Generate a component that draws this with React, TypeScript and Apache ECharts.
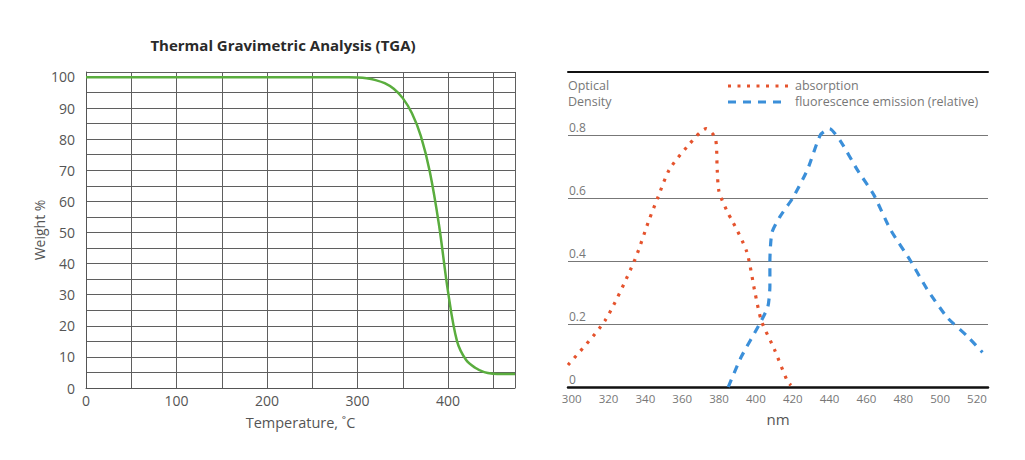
import React, { useEffect, useRef } from "react";
import * as echarts from "echarts";

const tgaTemp = [0, 50, 100, 150, 200, 250, 260, 270, 280, 290, 300, 310, 320, 330, 340, 350, 360, 370, 380, 390, 400, 410, 420, 430, 440, 450, 460, 474];
const tgaWeight = [99.9, 99.9, 99.9, 99.9, 99.9, 99.9, 99.9, 99.9, 99.9, 99.9, 99.85, 99.6, 99.0, 98.0, 96.2, 93.2, 88.4, 81.0, 69.4, 52.5, 31, 15, 9, 6.5, 5.1, 4.6, 4.5, 4.5];

const absNm = [298, 318, 334, 342, 347, 353, 363, 373, 378, 379, 380, 385, 387, 395, 399.5, 403, 410, 417, 419];
const absOd = [0.07, 0.21, 0.4, 0.53, 0.605, 0.69, 0.765, 0.82, 0.79, 0.69, 0.62, 0.55, 0.53, 0.43, 0.3, 0.21, 0.12, 0.02, 0.005];

const fluNm = [385, 392, 402, 406.5, 407.6, 407.6, 408.7, 413, 420, 428, 435, 440, 446, 455, 464, 473, 484, 493, 504, 515, 523];
const fluOd = [0, 0.095, 0.2, 0.255, 0.32, 0.4, 0.49, 0.54, 0.6, 0.69, 0.8, 0.82, 0.78, 0.69, 0.61, 0.5, 0.4, 0.31, 0.22, 0.16, 0.11];

const nmTicks = [300, 320, 340, 360, 380, 400, 420, 440, 460, 480, 500, 520];
const odTicks = [0, 0.2, 0.4, 0.6, 0.8];

const FONT = "'Open Sans', 'Noto Sans', sans-serif";
const RED = "#e5532d";
const BLUE = "#3b8fd9";
const ABS_DASH = [3, 6.5];
const FLU_DASH = [8, 7];

export default function App() {
  const ref = useRef<HTMLDivElement>(null);
  useEffect(() => {
    document.body.style.margin = "0";
    const chart = echarts.init(ref.current!, null, { renderer: "svg" });
    const option: any = {
      animation: false,
      backgroundColor: "#ffffff",
      textStyle: { fontFamily: FONT },
      title: {
        text: "Thermal Gravimetric Analysis (TGA)",
        left: 278,
        textAlign: "center",
        top: 32,
        textStyle: { fontSize: 15, fontWeight: "bold", color: "#2a2a2a", fontFamily: FONT },
      },
      graphic: [
        { type: "text", left: 568, top: 79, style: { text: "Optical", fontSize: 12.5, fill: "#777", fontFamily: FONT } },
        { type: "text", left: 568, top: 95, style: { text: "Density", fontSize: 12.5, fill: "#777", fontFamily: FONT } },
        {
          type: "line",
          shape: { x1: 728, y1: 86, x2: 788, y2: 86 },
          style: { stroke: RED, lineWidth: 3.2, lineDash: ABS_DASH },
        },
        {
          type: "line",
          shape: { x1: 728, y1: 102, x2: 788, y2: 102 },
          style: { stroke: BLUE, lineWidth: 3.2, lineDash: FLU_DASH },
        },
        { type: "text", left: 795, top: 79, style: { text: "absorption", fontSize: 12.5, fill: "#777", fontFamily: FONT } },
        { type: "text", left: 795, top: 95, style: { text: "fluorescence emission (relative)", fontSize: 12.5, fill: "#777", fontFamily: FONT } },
      ],
      grid: [
        { left: 86, right: 510, top: 72, bottom: 72 },
        { left: 568, right: 37, top: 72, bottom: 73 },
      ],
      xAxis: [
        {
          gridIndex: 0,
          type: "value",
          min: 0,
          max: 474,
          interval: 50,
          name: "Temperature, \u02daC",
          nameLocation: "middle",
          nameGap: 27,
          nameTextStyle: { fontSize: 14.5, color: "#555", fontFamily: FONT },
          axisLine: { show: true, lineStyle: { color: "#555", width: 1 } },
          axisTick: { show: false },
          axisLabel: {
            fontSize: 14,
            color: "#555",
            margin: 5,
            formatter: (v: number) => (v % 100 === 0 ? String(v) : ""),
          },
          splitLine: { show: true, lineStyle: { color: "#5f5f5f", width: 1 } },
        },
        {
          gridIndex: 1,
          type: "value",
          min: 298,
          max: 526,
          name: "nm",
          nameLocation: "middle",
          nameGap: 24,
          nameTextStyle: { fontSize: 15, color: "#555", fontFamily: FONT },
          axisLine: { show: true, onZero: false, lineStyle: { color: "#111", width: 2.5 } },
          axisTick: { show: false },
          axisLabel: { fontSize: 11.5, color: "#777", margin: 5, customValues: nmTicks },
          splitLine: { show: false },
        },
        {
          gridIndex: 1,
          type: "value",
          position: "top",
          min: 298,
          max: 526,
          axisLine: { show: true, onZero: false, lineStyle: { color: "#111", width: 2 } },
          axisTick: { show: false },
          axisLabel: { show: false },
          splitLine: { show: false },
        },
      ],
      yAxis: [
        {
          gridIndex: 0,
          type: "value",
          min: 0,
          max: 101.6,
          interval: 5,
          name: "Weight %",
          nameLocation: "middle",
          nameGap: 40,
          nameTextStyle: { fontSize: 14, color: "#555", fontFamily: FONT },
          axisLine: { show: true, lineStyle: { color: "#555", width: 1 } },
          axisTick: { show: false },
          axisLabel: {
            fontSize: 14,
            color: "#555",
            margin: 11,
            formatter: (v: number) => (v % 10 === 0 ? String(v) : ""),
          },
          splitLine: { show: true, lineStyle: { color: "#5f5f5f", width: 1 } },
        },
        {
          gridIndex: 1,
          type: "value",
          min: 0,
          max: 1,
          interval: 0.2,
          axisLine: { show: false },
          axisTick: { show: false },
          axisLabel: {
            inside: true,
            align: "left",
            verticalAlign: "bottom",
            margin: 1,
            padding: [0, 0, 2, 0],
            fontSize: 12,
            color: "#777",
            formatter: (v: number) => (odTicks.some((t) => Math.abs(t - v) < 1e-6) ? String(Math.round(v * 10) / 10) : ""),
          },
          splitLine: { show: true, lineStyle: { color: "#777", width: 1 } },
        },
      ],
      series: [
        {
          name: "TGA",
          type: "line",
          xAxisIndex: 0,
          yAxisIndex: 0,
          data: tgaTemp.map((t, i) => [t, tgaWeight[i]]),
          smooth: 0.35,
          showSymbol: false,
          symbol: "none",
          lineStyle: { color: "#5aad3e", width: 2.5 },
        },
        {
          name: "absorption",
          type: "line",
          xAxisIndex: 1,
          yAxisIndex: 1,
          data: absNm.map((t, i) => [t, absOd[i]]),
          smooth: 0.25,
          showSymbol: false,
          symbol: "none",
          itemStyle: { color: RED },
          lineStyle: { color: RED, width: 3.2, type: ABS_DASH },
        },
        {
          name: "fluorescence emission (relative)",
          type: "line",
          xAxisIndex: 1,
          yAxisIndex: 1,
          data: fluNm.map((t, i) => [t, fluOd[i]]),
          smooth: 0.2,
          showSymbol: false,
          symbol: "none",
          itemStyle: { color: BLUE },
          lineStyle: { color: BLUE, width: 3.2, type: FLU_DASH },
        },
      ],
    };
    chart.setOption(option);
    return () => chart.dispose();
  }, []);
  return <div ref={ref} style={{ width: 1025, height: 460 }} />;
}
